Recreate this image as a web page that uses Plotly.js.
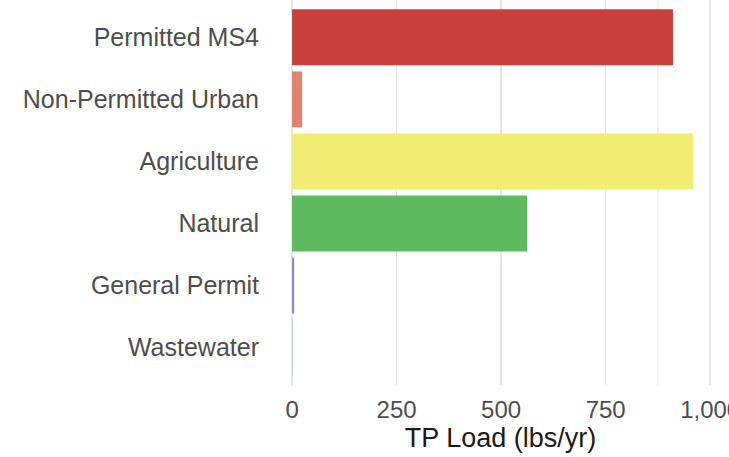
<!DOCTYPE html>
<html>
<head>
<meta charset="utf-8">
<script src="https://cdn.plot.ly/plotly-3.0.1.min.js"></script>
<style>html,body{margin:0;padding:0;background:#fff;}#chart{width:729px;height:457px;}</style>
</head>
<body>
<div id="chart"></div>
<script>
const categories = ["Permitted MS4", "Non-Permitted Urban", "Agriculture", "Natural", "General Permit", "Wastewater"];
const tpLoad = [911, 24, 959, 562, 5, 1];
const barColors = ["#C93F3E", "#E2826E", "#F1EC73", "#5DBA5F", "#8A86CC", "#9DC3E6"];
const tickVals = [0, 250, 500, 750, 1000];
const tickText = ["0", "250", "500", "750", "1,000"];

const trace = {
  type: "bar",
  orientation: "h",
  y: categories,
  x: tpLoad,
  marker: {color: barColors, line: {width: 0}},
  width: 0.9,
  hoverinfo: "x+y"
};

const layout = {
  width: 729,
  height: 457,
  margin: {l: 272, r: 0, t: 0, b: 72},
  paper_bgcolor: "#ffffff",
  plot_bgcolor: "#ffffff",
  showlegend: false,
  font: {family: "Liberation Sans, Arial, sans-serif", color: "#444444"},
  xaxis: {
    range: [-48, 1045],
    tickvals: tickVals,
    ticktext: tickText,
    showgrid: true,
    gridcolor: "#E6E6EA",
    gridwidth: 1.5,
    zeroline: false,
    showline: false,
    ticks: "",
    ticklabeloverflow: "allow",
    tickfont: {size: 24, color: "#4D4D4D"},
    ticklabelstandoff: 8,
    title: {text: "TP Load (lbs/yr)", font: {size: 27, color: "#1a1a1a"}, standoff: 2}
  },
  yaxis: {
    type: "category",
    autorange: false,
    range: [5.6, -0.6],
    showgrid: false,
    zeroline: false,
    showline: false,
    ticks: "",
    ticklabelstandoff: 12,
    tickfont: {size: 25, color: "#4D4D4D"}
  },
  shapes: [{
    type: "line", xref: "x", yref: "paper", x0: 875, x1: 875, y0: 0, y1: 1,
    line: {color: "#EFEFF2", width: 1.5}, layer: "below"
  }]
};

Plotly.newPlot("chart", [trace], layout, {displayModeBar: false, staticPlot: true});
</script>
</body>
</html>
